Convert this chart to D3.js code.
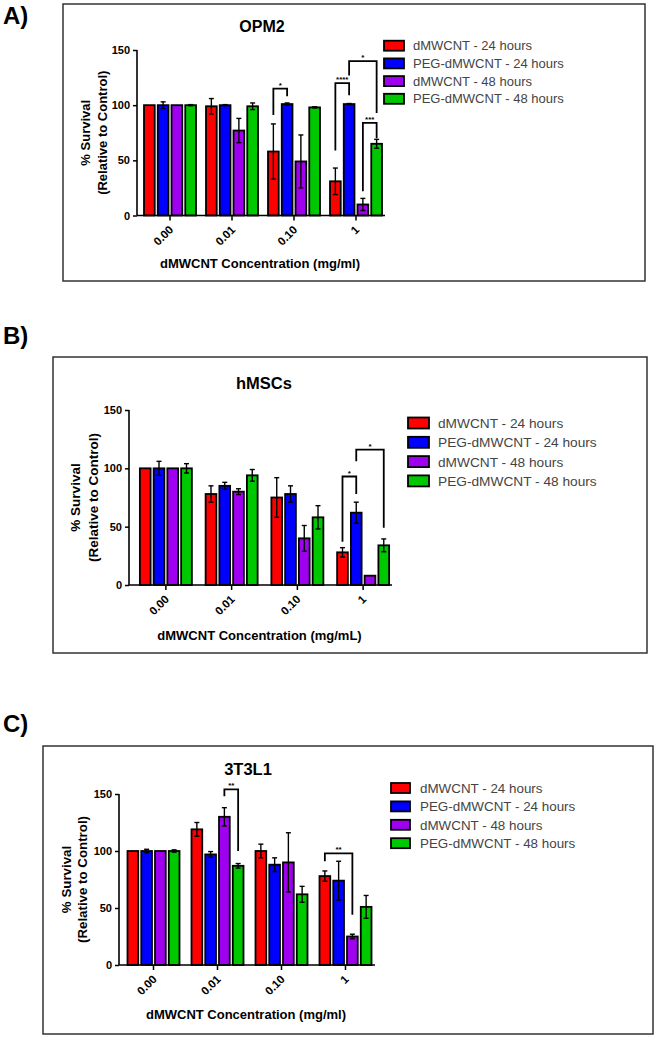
<!DOCTYPE html>
<html><head><meta charset="utf-8">
<script src="https://cdn.jsdelivr.net/npm/d3@7/dist/d3.min.js"></script>
<style>body{margin:0;background:#fff}svg{display:block}</style>
</head><body>
<svg id="c" width="659" height="1040"></svg>
<script>
const categories = ["0.00", "0.01", "0.10", "1"];
const seriesNames = ["dMWCNT - 24 hours", "PEG-dMWCNT - 24 hours", "dMWCNT - 48 hours", "PEG-dMWCNT - 48 hours"];
const seriesColors = ["#ff0000", "#0000ff", "#a000f0", "#00c800"];
const yTicks = [0, 50, 100, 150];

// OPM2 (rows = series, cols = categories)
const opm2Mean = [[100, 99, 58, 31], [100, 100, 101, 101], [100, 77, 49, 10], [100, 99, 98, 65]];
const opm2Err  = [[0, 7, 25, 12], [3, 0.5, 1, 0.5], [0, 11, 24, 5.5], [0.5, 3, 0.5, 4]];
const opm2Sig  = [
  {cat: 2, a: 0, b: 1, top: 115, la: 91, lb: 108, label: "*"},
  {cat: 3, a: 0, b: 1, top: 120, la: 59, lb: 109, label: "****"},
  {cat: 3, a: 1, b: 3, top: 140, la: 127, lb: 93, label: "*"},
  {cat: 3, a: 2, b: 3, top: 84, la: 22, lb: 70, label: "***"}
];

// hMSCs
const hmscMean = [[100, 78, 75, 28], [100, 85, 78, 62], [100, 80, 40, 8], [100, 94, 58, 34]];
const hmscErr  = [[0, 7, 17, 4], [6, 3, 7, 9], [0, 2.5, 11, 0], [4, 5, 10, 5.5]];
const hmscSig  = [
  {cat: 3, a: 0, b: 1, top: 93, la: 37, lb: 78, label: "*"},
  {cat: 3, a: 1, b: 3, top: 116, la: 106, lb: 49, label: "*"}
];

// 3T3L1
const t3l1Mean = [[100, 119, 100, 78], [100, 97, 88, 74], [100, 130, 90, 25], [100, 87, 62, 51]];
const t3l1Err  = [[0, 6, 6, 4.5], [1.5, 2.5, 6, 17], [0, 8, 26, 2], [1, 2, 7, 10]];
const t3l1Sig  = [
  {cat: 1, a: 2, b: 3, top: 154, la: 148, lb: 100, label: "**"},
  {cat: 3, a: 0, b: 2, top: 98, la: 91, lb: 44, label: "**"}
];

const FONT = "Arial, 'Liberation Sans', sans-serif";
const svg = d3.select("#c");

const panels = [
  {label: "A)", labelY: 24, box: [63, 4, 645, 281], title: "OPM2", titleX: 262, titleY: 31.5, titleSize: 16,
   ax0: 137, ax1: 385, shift: 2, yTop: 50, yBot: 215.5, mean: opm2Mean, err: opm2Err, sig: opm2Sig,
   legX: 384, legY: 45.7, legStep: 17.7, swW: 20, swH: 10, textX: 413, legFont: 13,
   xTitle: "dMWCNT Concentration (mg/ml)", xTitleY: 268, yl1: 85, yl2: 102, ylSize: 13},
  {label: "B)", labelY: 343.5, box: [53, 357, 647, 653], title: "hMSCs", titleX: 264, titleY: 389, titleSize: 16.5,
   ax0: 129, ax1: 392, shift: 4, yTop: 410, yBot: 585, mean: hmscMean, err: hmscErr, sig: hmscSig,
   legX: 408, legY: 423, legStep: 19.3, swW: 21, swH: 11, textX: 438, legFont: 13.7,
   xTitle: "dMWCNT Concentration (mg/mL)", xTitleY: 640, yl1: 75, yl2: 93, ylSize: 13.5},
  {label: "C)", labelY: 731.5, box: [43, 746, 653, 1034], title: "3T3L1", titleX: 248, titleY: 775, titleSize: 16.5,
   ax0: 119, ax1: 375, shift: 2.5, yTop: 794, yBot: 965, mean: t3l1Mean, err: t3l1Err, sig: t3l1Sig,
   legX: 391, legY: 788, legStep: 18.4, swW: 19, swH: 10, textX: 420, legFont: 13.4,
   xTitle: "dMWCNT Concentration (mg/ml)", xTitleY: 1019, yl1: 66, yl2: 82, ylSize: 13.3}
];

panels.forEach(p => {
  const g = svg.append("g");
  // panel label
  g.append("text").attr("x", 3).attr("y", p.labelY).text(p.label)
    .attr("font-family", FONT).attr("font-weight", "bold").attr("font-size", 24);
  // box
  const [bx0, by0, bx1, by1] = p.box;
  g.append("rect").attr("x", bx0).attr("y", by0).attr("width", bx1 - bx0).attr("height", by1 - by0)
    .attr("fill", "none").attr("stroke", "#333").attr("stroke-width", 1.5);
  // title
  g.append("text").attr("x", p.titleX).attr("y", p.titleY).attr("text-anchor", "middle")
    .attr("font-family", FONT).attr("font-weight", "bold").attr("font-size", p.titleSize).text(p.title);

  const x0 = d3.scaleBand().domain(categories).range([p.ax0 + p.shift, p.ax1 + p.shift]);
  const step = x0.step();
  const x1 = d3.scaleBand().domain(d3.range(seriesNames.length))
    .range([(step - 52) / 2, (step + 52) / 2]).paddingInner(0.22);
  const y = d3.scaleLinear().domain([0, 150]).range([p.yBot, p.yTop]);
  const cx = (c, s) => x0(categories[c]) + x1(s) + x1.bandwidth() / 2;

  // bars
  p.mean.forEach((vals, s) => {
    g.append("g").selectAll("rect").data(vals).join("rect")
      .attr("x", (d, c) => x0(categories[c]) + x1(s))
      .attr("y", d => y(d))
      .attr("width", x1.bandwidth())
      .attr("height", d => y(0) - y(d))
      .attr("fill", seriesColors[s]).attr("stroke", "#000").attr("stroke-width", 1.8);
  });
  // error bars
  p.mean.forEach((vals, s) => {
    vals.forEach((m, c) => {
      const e = p.err[s][c];
      if (!e) return;
      const xx = cx(c, s);
      const eg = g.append("g").attr("stroke", "#000").attr("stroke-width", 1.4);
      eg.append("line").attr("x1", xx).attr("x2", xx).attr("y1", y(m - e)).attr("y2", y(m + e));
      [m - e, m + e].forEach(v => eg.append("line").attr("x1", xx - 2.5).attr("x2", xx + 2.5).attr("y1", y(v)).attr("y2", y(v)));
    });
  });

  // axes
  const ya = d3.axisLeft(y).tickValues(yTicks).tickSize(4).tickPadding(3);
  const yg = g.append("g").attr("transform", `translate(${p.ax0},0)`).call(ya);
  yg.select(".domain").remove();
  yg.selectAll("line").attr("stroke", "#000").attr("stroke-width", 1.5);
  yg.selectAll("text").attr("font-family", FONT).attr("font-weight", "bold").attr("font-size", 11).attr("fill", "#000");
  g.append("line").attr("x1", p.ax0).attr("x2", p.ax0).attr("y1", p.yTop).attr("y2", p.yBot)
    .attr("stroke", "#000").attr("stroke-width", 1.6);
  g.append("line").attr("x1", p.ax0).attr("x2", p.ax1).attr("y1", p.yBot).attr("y2", p.yBot)
    .attr("stroke", "#000").attr("stroke-width", 1.6);

  const xa = d3.axisBottom(x0).tickSize(5).tickFormat(d => d);
  const xg = g.append("g").attr("transform", `translate(0,${p.yBot})`).call(xa);
  xg.select(".domain").remove();
  xg.selectAll("line").attr("stroke", "#000").attr("stroke-width", 1.5);
  xg.selectAll("text").attr("font-family", FONT).attr("font-weight", "bold").attr("font-size", 11.5).attr("fill", "#000")
    .attr("text-anchor", "end").attr("y", 0).attr("dy", 0)
    .attr("transform", "translate(4,15) rotate(-45)");

  // axis titles
  g.append("text").attr("x", (p.ax0 + p.ax1) / 2 - 1).attr("y", p.xTitleY).attr("text-anchor", "middle")
    .attr("font-family", FONT).attr("font-weight", "bold").attr("font-size", 13).text(p.xTitle);
  const ym = (p.yTop + p.yBot) / 2;
  [["% Survival", p.yl1], ["(Relative to Control)", p.yl2]].forEach(([t, xx]) => {
    g.append("text").attr("transform", `translate(${xx},${ym}) rotate(-90)`).attr("text-anchor", "middle")
      .attr("dy", "0.35em").attr("font-family", FONT).attr("font-weight", "bold").attr("font-size", p.ylSize).text(t);
  });

  // significance brackets
  p.sig.forEach(s => {
    const xa_ = cx(s.cat, s.a), xb_ = cx(s.cat, s.b);
    g.append("path").attr("d", `M${xa_},${y(s.la)}V${y(s.top)}H${xb_}V${y(s.lb)}`)
      .attr("fill", "none").attr("stroke", "#000").attr("stroke-width", 1.8);
    g.append("text").attr("x", (xa_ + xb_) / 2).attr("y", y(s.top) - 1).attr("text-anchor", "middle")
      .attr("font-family", FONT).attr("font-weight", "bold").attr("font-size", 8).text(s.label);
  });

  // legend
  seriesNames.forEach((n, i) => {
    const cy = p.legY + i * p.legStep;
    g.append("rect").attr("x", p.legX).attr("y", cy - p.swH / 2).attr("width", p.swW).attr("height", p.swH)
      .attr("fill", seriesColors[i]).attr("stroke", "#000").attr("stroke-width", 1.8);
    g.append("text").attr("x", p.textX).attr("y", cy).attr("dy", "0.36em")
      .attr("font-family", FONT).attr("font-size", p.legFont).attr("fill", "#444").text(n);
  });
});
</script>
</body></html>
